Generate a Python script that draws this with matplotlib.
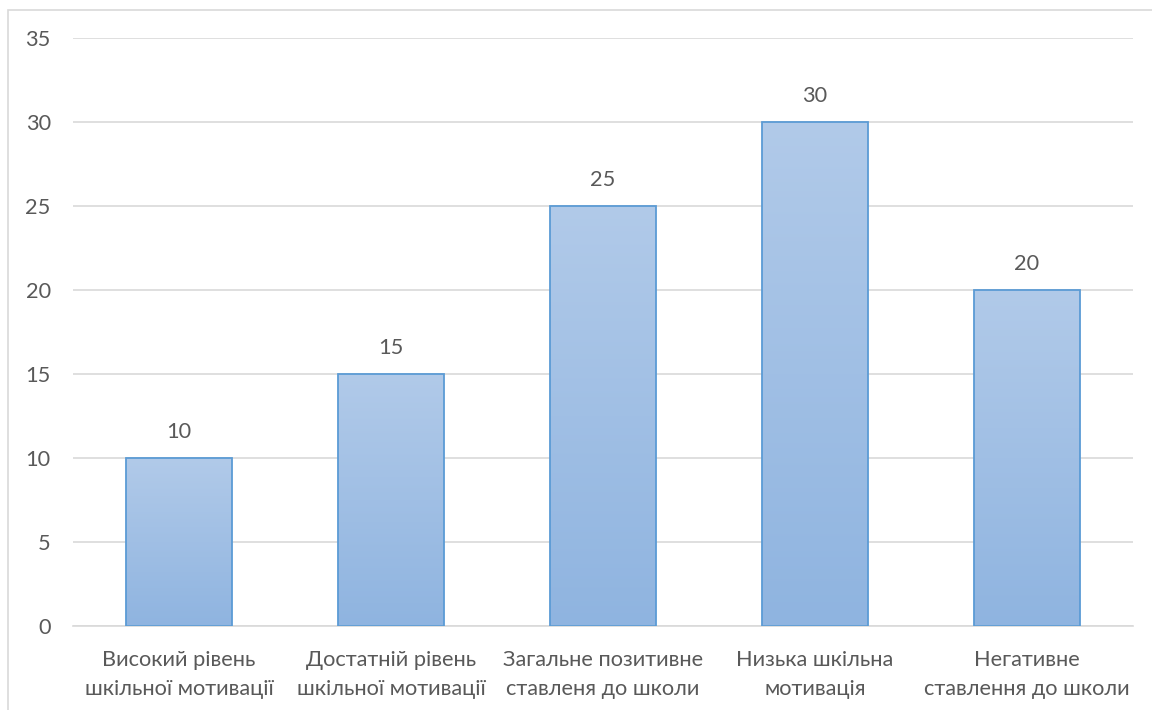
import matplotlib.pyplot as plt
import numpy as np
from matplotlib.colors import LinearSegmentedColormap
from matplotlib.patches import Rectangle

categories = ['Високий рівень\nшкільної мотивації',
              'Достатній рівень\nшкільної мотивації',
              'Загальне позитивне\nставленя до школи',
              'Низька шкільна\nмотивація',
              'Негативне\nставлення до школи']
values = [10, 15, 25, 30, 20]
yticks = [0, 5, 10, 15, 20, 25, 30, 35]

plt.rcParams['font.family'] = ['Lato', 'DejaVu Sans']
txt = '#595959'
fs = 15.7

fig = plt.figure(figsize=(11.52, 7.10), dpi=100)
# chart frame
fig.patches.append(Rectangle((8 / 1152, -0.1), 1.2, 1 - 10 / 710 + 0.1,
                             transform=fig.transFigure, fill=False,
                             edgecolor='#d9d9d9', linewidth=1.2))
ax = fig.add_axes([73 / 1152, 1 - 626 / 710, 1060 / 1152, 588 / 710])

x = np.arange(len(categories))
bars = ax.bar(x, values, width=0.5, color='none', edgecolor='#5b9bd5',
              linewidth=1.3, zorder=3)

# vertical gradient inside each bar
cmap = LinearSegmentedColormap.from_list('grad', ['#8fb4e0', '#b1cae9'])
grad = np.linspace(0, 1, 256).reshape(-1, 1)
for b in bars:
    x0, w, h = b.get_x(), b.get_width(), b.get_height()
    im = ax.imshow(grad, cmap=cmap, origin='lower', aspect='auto',
                   extent=[x0, x0 + w, 0, h], zorder=2)
    im.set_clip_path(b)
    ax.text(x0 + w / 2, h + 0.95, str(int(h)), ha='center', va='bottom',
            fontsize=fs, color=txt)

ax.set_xlim(-0.5, len(categories) - 0.5)
ax.set_ylim(0, 35)
ax.set_yticks(yticks)
ax.set_xticks(x)
ax.set_xticklabels(categories, fontsize=fs, color=txt, linespacing=1.6)
ax.tick_params(axis='y', labelsize=fs, labelcolor=txt, length=0, pad=16)
ax.tick_params(axis='x', length=0, pad=17)
ax.grid(axis='y', color='#d9d9d9', linewidth=1.2, zorder=0)
for s in ['top', 'right', 'left']:
    ax.spines[s].set_visible(False)
ax.spines['bottom'].set_color('#d9d9d9')
ax.spines['bottom'].set_linewidth(1.2)

fig.savefig('out.png', dpi=100)
